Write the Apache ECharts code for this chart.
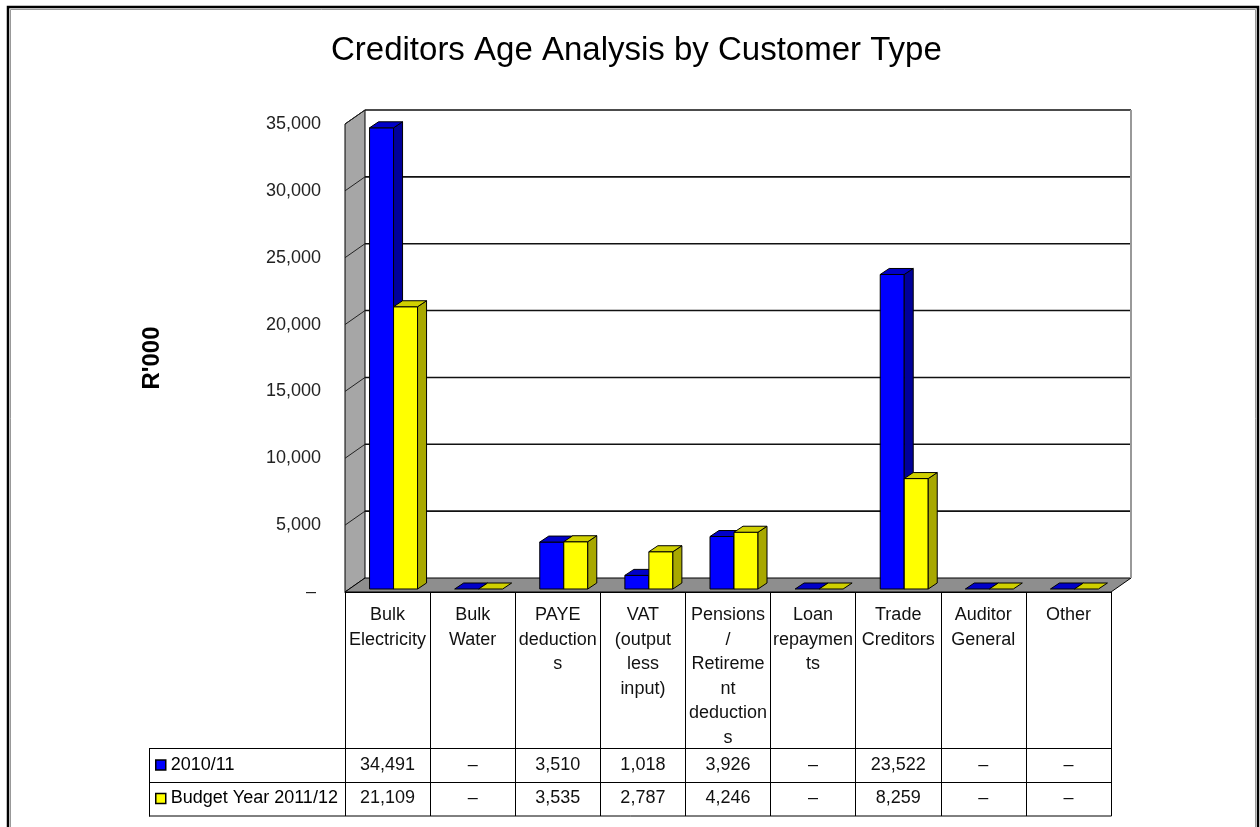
<!DOCTYPE html>
<html>
<head>
<meta charset="utf-8">
<script src="https://cdn.jsdelivr.net/npm/echarts@6.0.0/dist/echarts.min.js"></script>
<style>
  html, body { margin: 0; padding: 0; background: #fff; }
  #chart { width: 1260px; height: 827px; }
</style>
</head>
<body>
<div id="chart"></div>
<script>
// ---- data ----
const categories = ['Bulk Electricity', 'Bulk Water', 'PAYE deductions', 'VAT (output less input)',
  'Pensions / Retirement deductions', 'Loan repayments', 'Trade Creditors', 'Auditor General', 'Other'];
const headerLabels = ['Bulk\nElectricity', 'Bulk\nWater', 'PAYE\ndeduction\ns', 'VAT\n(output\nless\ninput)',
  'Pensions\n/\nRetireme\nnt\ndeduction\ns', 'Loan\nrepaymen\nts', 'Trade\nCreditors', 'Auditor\nGeneral', 'Other'];
const seriesNames = ['2010/11', 'Budget Year 2011/12'];
const values2010 = [34491, 0, 3510, 1018, 3926, 0, 23522, 0, 0];
const valuesBudget = [21109, 0, 3535, 2787, 4246, 0, 8259, 0, 0];
const yTicks = [0, 5000, 10000, 15000, 20000, 25000, 30000, 35000];
const yTitle = "R'000";
const chartTitle = 'Creditors Age Analysis by Customer Type';

// ---- styling ----
const FONT = "'Liberation Sans', Arial, sans-serif";
const WALL_DX = 20, WALL_DY = -14;   // depth of 3D box
const BAR_DX = 9, BAR_DY = -6;       // depth of each bar
const BAR_W = 24, BAR_LIFT = 3;
const colorsBlue = { front: '#0000ff', side: '#00009a', top: '#0000c8' };
const colorsYellow = { front: '#ffff00', side: '#a8a800', top: '#d0d000' };

const fmt = v => v === 0 ? '–' : v.toLocaleString('en-US');

function renderWalls(params, api) {
  const cs = params.coordSys;
  const x0 = cs.x, x1 = cs.x + cs.width;
  const yb = api.coord([0, yTicks[0]])[1];
  const yt = api.coord([0, yTicks[yTicks.length - 1]])[1];
  const ch = [];
  ch.push({ type: 'polygon', shape: { points: [[x0 + WALL_DX, yt + WALL_DY], [x1 + WALL_DX, yt + WALL_DY], [x1 + WALL_DX, yb + WALL_DY], [x0 + WALL_DX, yb + WALL_DY]] },
    style: { fill: '#ffffff', stroke: null } });
  ch.push({ type: 'polygon', shape: { points: [[x0, yt], [x0 + WALL_DX, yt + WALL_DY], [x0 + WALL_DX, yb + WALL_DY], [x0, yb]] },
    style: { fill: '#a6a6a6', stroke: '#000', lineWidth: 1 } });
  ch.push({ type: 'polygon', shape: { points: [[x0, yb], [x0 + WALL_DX, yb + WALL_DY], [x1 + WALL_DX, yb + WALL_DY], [x1, yb]] },
    style: { fill: '#8e8e8e', stroke: '#000', lineWidth: 1 } });
  yTicks.forEach(v => {
    if (v === 0) return;
    const y = api.coord([0, v])[1];
    ch.push({ type: 'line', shape: { x1: x0 + WALL_DX, y1: y + WALL_DY, x2: x1 + WALL_DX, y2: y + WALL_DY },
      style: { stroke: '#111', lineWidth: 1.6 } });
    ch.push({ type: 'line', shape: { x1: x0, y1: y, x2: x0 + WALL_DX, y2: y + WALL_DY },
      style: { stroke: '#222', lineWidth: 1 } });
  });
  ch.push({ type: 'line', shape: { x1: x1 + WALL_DX, y1: yt + WALL_DY, x2: x1 + WALL_DX, y2: yb + WALL_DY },
    style: { stroke: '#999', lineWidth: 2 } });
  return { type: 'group', children: ch };
}

function makeBarRenderer(offset, col) {
  return function (params, api) {
    const ci = api.value(0), v = api.value(1);
    const p0 = api.coord([ci, 0]);
    const p1 = api.coord([ci, v]);
    const x0 = p0[0] + offset, x1 = x0 + BAR_W;
    const yb = p0[1] - BAR_LIFT, yt = p1[1] - BAR_LIFT;
    const st = { stroke: '#000', lineWidth: 1 };
    const ch = [];
    if (yb - yt > 0.5) {
      ch.push({ type: 'rect', shape: { x: x0, y: yt, width: BAR_W, height: yb - yt }, style: Object.assign({ fill: col.front }, st) });
      ch.push({ type: 'polygon', shape: { points: [[x1, yt], [x1 + BAR_DX, yt + BAR_DY], [x1 + BAR_DX, yb + BAR_DY], [x1, yb]] },
        style: Object.assign({ fill: col.side }, st) });
    }
    ch.push({ type: 'polygon', shape: { points: [[x0, yt], [x0 + BAR_DX, yt + BAR_DY], [x1 + BAR_DX, yt + BAR_DY], [x1, yt]] },
      style: Object.assign({ fill: col.top }, st) });
    return { type: 'group', children: ch };
  };
}

const chart = echarts.init(document.getElementById('chart'), null, { renderer: 'canvas' });

const option = {
  animation: false,
  backgroundColor: '#ffffff',
  textStyle: { fontFamily: FONT },
  title: {
    text: chartTitle, left: 331, top: 34, padding: 0,
    textStyle: { fontFamily: FONT, fontSize: 33, fontWeight: 'normal', color: '#000', lineHeight: 33 }
  },
  legend: {
    orient: 'vertical', left: 155, top: 755, padding: 0, itemGap: 13.5,
    itemWidth: 10, itemHeight: 10, icon: 'rect',
    textStyle: { fontFamily: FONT, fontSize: 18, lineHeight: 20, color: '#000' },
    data: [
      { name: seriesNames[0], itemStyle: { color: colorsBlue.front, borderColor: '#000', borderWidth: 1.5 } },
      { name: seriesNames[1], itemStyle: { color: colorsYellow.front, borderColor: '#000', borderWidth: 1.5 } }
    ]
  },
  grid: { left: 345, top: 124, width: 766, height: 468, containLabel: false },
  xAxis: [
    {
      type: 'category', data: categories, position: 'bottom',
      axisLine: { show: true, lineStyle: { color: '#000', width: 1 } },
      axisTick: { show: true, interval: 0, length: 224, lineStyle: { color: '#000', width: 1 } },
      axisLabel: { interval: 0, formatter: (v, i) => headerLabels[i], fontFamily: FONT, fontSize: 18, lineHeight: 24.5, color: '#111', margin: 11 },
      splitLine: { show: false }
    },
    {
      type: 'category', data: categories, position: 'bottom', offset: 155,
      axisLine: { show: false }, axisTick: { show: false },
      axisLabel: { interval: 0, formatter: (v, i) => fmt(values2010[i]), fontFamily: FONT, fontSize: 18, lineHeight: 20, color: '#111', margin: 8 }
    },
    {
      type: 'category', data: categories, position: 'bottom', offset: 188,
      axisLine: { show: false }, axisTick: { show: false },
      axisLabel: { interval: 0, formatter: (v, i) => fmt(valuesBudget[i]), fontFamily: FONT, fontSize: 18, lineHeight: 20, color: '#111', margin: 8.5 }
    }
  ],
  yAxis: {
    type: 'value', min: yTicks[0], max: yTicks[yTicks.length - 1], interval: yTicks[1] - yTicks[0],
    name: yTitle, nameLocation: 'middle', nameGap: 181, nameRotate: 90,
    nameTextStyle: { fontFamily: FONT, fontSize: 24, fontWeight: 'bold', color: '#000' },
    axisLine: { show: false }, axisTick: { show: false }, splitLine: { show: false },
    axisLabel: { formatter: v => v === 0 ? '– ' : v.toLocaleString('en-US'), margin: 24, fontFamily: FONT, fontSize: 18, color: '#222', padding: [6, 0, 0, 0] }
  },
  graphic: [
    { type: 'rect', shape: { x: 8, y: 7, width: 1250, height: 900 }, style: { fill: 'none', stroke: '#000', lineWidth: 2.5 }, z: 100 },
    { type: 'rect', shape: { x: 10.5, y: 9.5, width: 1245, height: 900 }, style: { fill: 'none', stroke: '#999', lineWidth: 1 }, z: 100 },
    { type: 'line', shape: { x1: 149, y1: 748.5, x2: 1111, y2: 748.5 }, style: { stroke: '#000', lineWidth: 1 }, z: 100 },
    { type: 'line', shape: { x1: 149, y1: 782.5, x2: 1111, y2: 782.5 }, style: { stroke: '#000', lineWidth: 1 }, z: 100 },
    { type: 'line', shape: { x1: 149, y1: 816, x2: 1111.5, y2: 816 }, style: { stroke: '#000', lineWidth: 1 }, z: 100 },
    { type: 'line', shape: { x1: 149.5, y1: 748, x2: 149.5, y2: 816.5 }, style: { stroke: '#000', lineWidth: 1 }, z: 100 }
  ],
  series: [
    {
      type: 'custom', name: 'walls', renderItem: renderWalls, data: [[0, 0]], encode: { x: 0, y: 1 },
      silent: true, z: 1
    },
    {
      type: 'custom', name: seriesNames[0], renderItem: makeBarRenderer(-18, colorsBlue),
      itemStyle: { color: colorsBlue.front },
      data: values2010.map((v, i) => [i, v]), encode: { x: 0, y: 1 }, z: 2
    },
    {
      type: 'custom', name: seriesNames[1], renderItem: makeBarRenderer(6, colorsYellow),
      itemStyle: { color: colorsYellow.front },
      data: valuesBudget.map((v, i) => [i, v]), encode: { x: 0, y: 1 }, z: 3
    }
  ]
};
chart.setOption(option);
</script>
</body>
</html>
